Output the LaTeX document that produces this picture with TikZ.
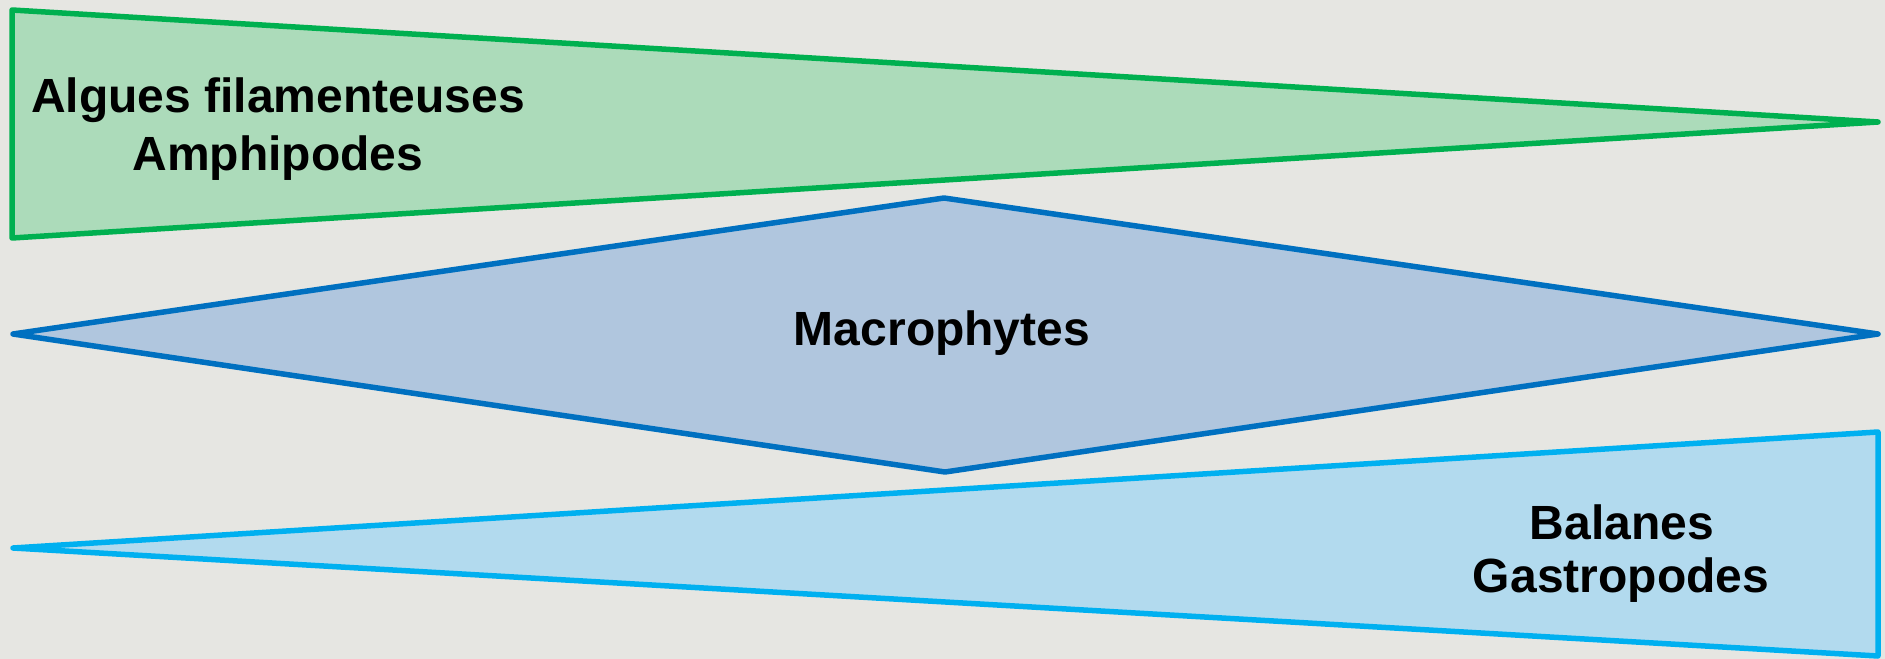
\documentclass[tikz,border=0pt]{standalone}
\usepackage{fontspec}
\setmainfont{Liberation Sans}
\begin{document}
\begin{tikzpicture}[x=0.4pt,y=-0.4pt,
  wedge/.style={line width=2.2pt,line join=round},
  lab/.style={font=\bfseries\fontsize{19.2pt}{23.2pt}\selectfont,align=center,text=black,inner sep=0pt}]
\definecolor{bg}{HTML}{E6E6E2}
\definecolor{gstroke}{HTML}{00B050}
\definecolor{gfill}{HTML}{ACDBBA}
\definecolor{bstroke}{HTML}{0070C0}
\definecolor{bfill}{HTML}{B0C6DE}
\definecolor{cstroke}{HTML}{00B0F0}
\definecolor{cfill}{HTML}{B2DAEE}
\fill[bg] (0,0) rectangle (1885,659);
\useasboundingbox (0,0) rectangle (1885,659);
% green wedge
\draw[wedge,draw=gstroke,fill=gfill] (12,10) -- (1878,122) -- (12,238) -- cycle;
% blue diamond
\draw[wedge,draw=bstroke,fill=bfill] (13,334) -- (944,198) -- (1878,334) -- (945,472) -- cycle;
% cyan wedge
\draw[wedge,draw=cstroke,fill=cfill] (13,548) -- (1878,432) -- (1878,656) -- cycle;
\node[lab,anchor=base] (algues) at (278,112) {Algues filamenteuses};
\node[lab,anchor=base] (amphi) at (278,170) {Amphipodes};
\node[lab,anchor=base] (macro) at (942,345) {Macrophytes};
\node[lab,anchor=base] (bal) at (1622,539) {Balanes};
\node[lab,anchor=base] (gast) at (1621,592) {Gastropodes};
\end{tikzpicture}
\end{document}
